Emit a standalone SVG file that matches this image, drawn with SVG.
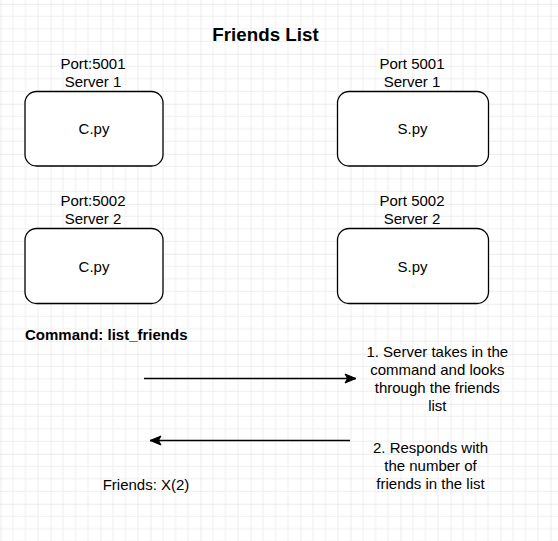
<svg xmlns="http://www.w3.org/2000/svg" width="558" height="541" viewBox="0 0 558 541">
  <defs>
    <pattern id="grid" patternUnits="userSpaceOnUse" x="0.5" y="3.8" width="50" height="50">
      <path d="M12.5 0V50M25 0V50M37.5 0V50M0 12.5H50M0 25H50M0 37.5H50" stroke="#efefef" stroke-width="1" fill="none"/>
      <path d="M0 0V50M0 0H50" stroke="#dadada" stroke-width="1" fill="none"/>
    </pattern>
    <marker id="arrow" markerUnits="userSpaceOnUse" markerWidth="14" markerHeight="12" refX="12" refY="6" orient="auto">
      <path d="M1 1.5L12 6L1 10.5L3.5 6Z" fill="#000" stroke="#000" stroke-width="1"/>
    </marker>
    <style>
      .box { fill: #fff; stroke: #000; stroke-width: 1.3; }
      .t { font-family: "Liberation Sans", Arial, Helvetica, sans-serif; font-size: 15px; fill: #000; text-anchor: middle; }
      .b { font-weight: bold; }
      .edge { stroke: #000; stroke-width: 1.5; fill: none; marker-end: url(#arrow); }
    </style>
  </defs>
  <rect width="558" height="541" fill="#fff"/>
  <rect width="558" height="541" fill="url(#grid)"/>

  <g id="title">
    <text class="t b" x="265.5" y="41" style="font-size:18.75px">Friends List</text>
  </g>

  <g id="client1">
    <text class="t" x="93" y="69">Port:5001</text>
    <text class="t" x="93" y="87">Server 1</text>
    <rect class="box" x="25" y="91.5" width="138" height="74.5" rx="11.5"/>
    <text class="t" x="94" y="134">C.py</text>
  </g>

  <g id="server1">
    <text class="t" x="412" y="69">Port 5001</text>
    <text class="t" x="412" y="87">Server 1</text>
    <rect class="box" x="337.5" y="91.5" width="151" height="74.5" rx="11.5"/>
    <text class="t" x="412.5" y="134">S.py</text>
  </g>

  <g id="client2">
    <text class="t" x="93" y="206">Port:5002</text>
    <text class="t" x="93" y="224">Server 2</text>
    <rect class="box" x="25" y="228.5" width="138" height="75" rx="11.5"/>
    <text class="t" x="94" y="272">C.py</text>
  </g>

  <g id="server2">
    <text class="t" x="412" y="206">Port 5002</text>
    <text class="t" x="412" y="224">Server 2</text>
    <rect class="box" x="337.5" y="228.5" width="151" height="75" rx="11.5"/>
    <text class="t" x="412.5" y="272">S.py</text>
  </g>

  <g id="command">
    <text class="t b" x="25" y="340" style="text-anchor:start">Command: list_friends</text>
  </g>

  <g id="connectors">
    <line class="edge" x1="144" y1="378.5" x2="356" y2="378.5"/>
    <line class="edge" x1="350" y1="440.5" x2="150" y2="440.5"/>
  </g>

  <g id="step1">
    <text class="t" x="437.3" y="357">1. Server takes in the</text>
    <text class="t" x="437.3" y="375">command and looks</text>
    <text class="t" x="437.3" y="393">through the friends</text>
    <text class="t" x="437.3" y="411">list</text>
  </g>

  <g id="step2">
    <text class="t" x="430.5" y="453">2. Responds with</text>
    <text class="t" x="430.5" y="471">the number of</text>
    <text class="t" x="430.5" y="489">friends in the list</text>
  </g>

  <g id="result">
    <text class="t" x="146" y="490">Friends: X(2)</text>
  </g>
</svg>
